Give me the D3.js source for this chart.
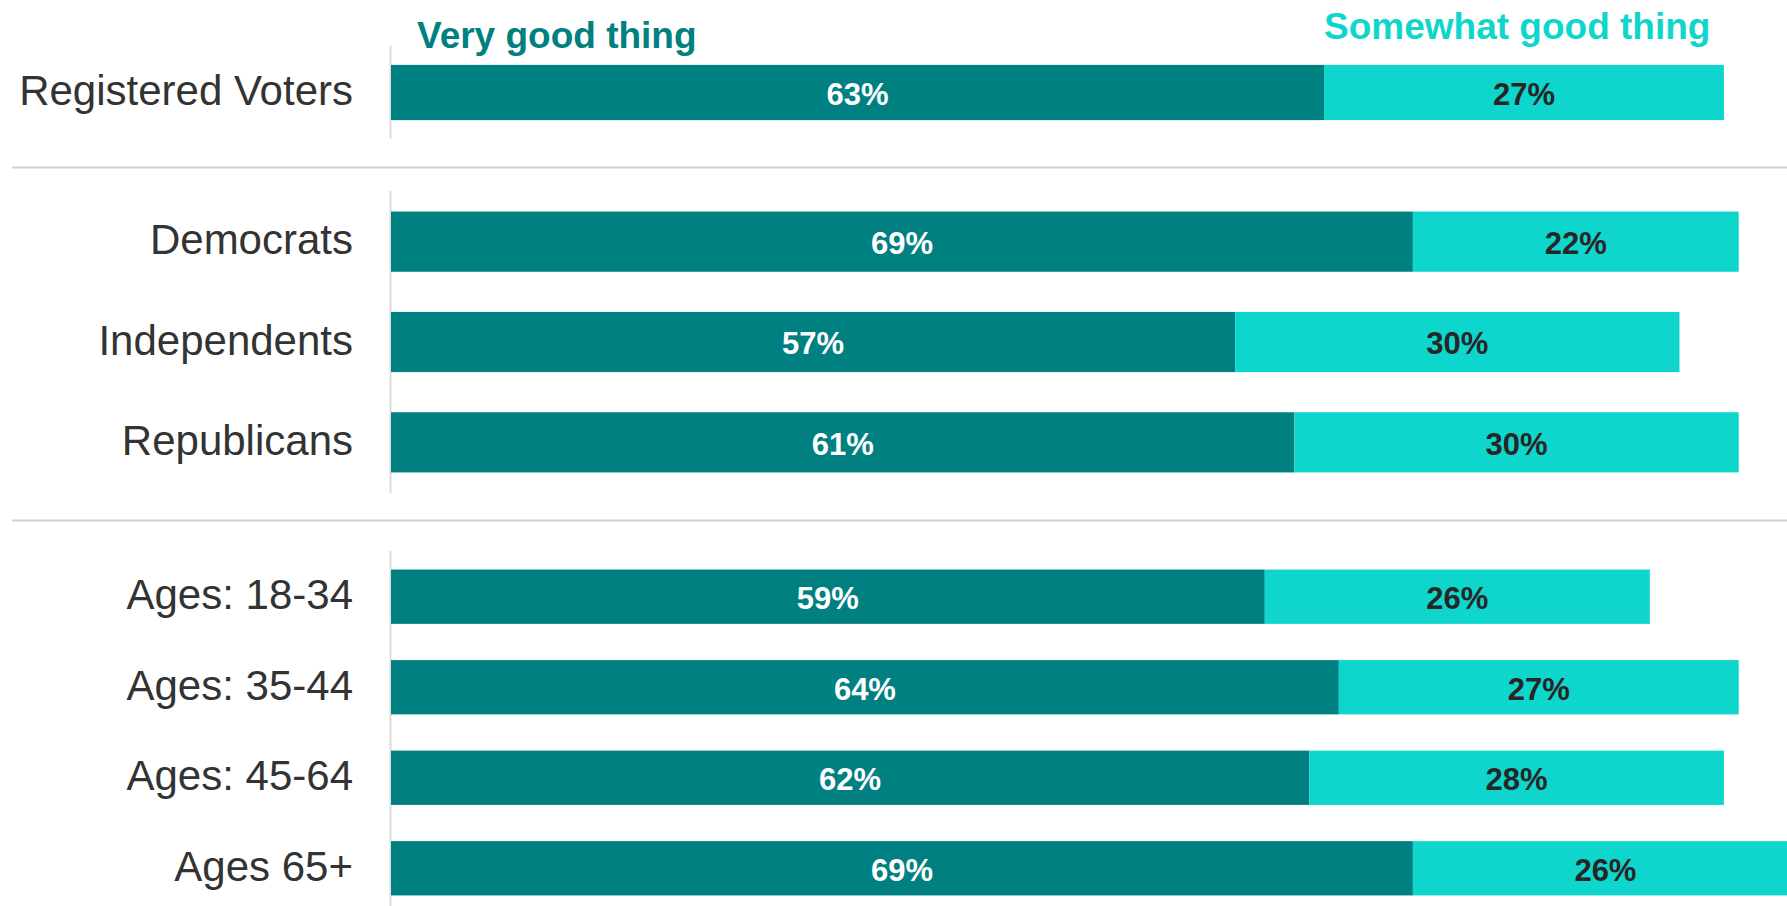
<!DOCTYPE html>
<html>
<head>
<meta charset="utf-8">
<script src="https://cdn.jsdelivr.net/npm/d3@7"></script>
<style>
  html, body { margin: 0; padding: 0; background: #fff; }
  svg { display: block; font-family: "Liberation Sans", Arial, sans-serif; }
</style>
</head>
<body>
<svg width="1787" height="906"></svg>
<script>
// data
let categories = ["Registered Voters", "Democrats", "Independents", "Republicans",
                  "Ages: 18-34", "Ages: 35-44", "Ages: 45-64", "Ages 65+"];
let veryGood = [63, 69, 57, 61, 59, 64, 62, 69];
let somewhatGood = [27, 22, 30, 30, 26, 27, 28, 26];
let groupOf = [0, 1, 1, 1, 2, 2, 2, 2];
let seriesNames = ["Very good thing", "Somewhat good thing"];

let darkTeal = '#008080';
let lightTeal = '#0fd6cd';

let svg = d3.select('svg');

let x = d3.scaleLinear().domain([0, 100]).range([391, 1872]);

// each group of rows gets its own band scale
let groupRanges = [[46, 139], [191, 493], [551, 914]];
let yScales = groupRanges.map((r, g) => {
  let cats = categories.filter((c, i) => groupOf[i] === g);
  return d3.scaleBand().domain(cats).range(r).paddingInner(0.4).paddingOuter(0.205);
});

let rows = categories.map((c, i) => ({
  name: c,
  very: veryGood[i],
  some: somewhatGood[i],
  y: yScales[groupOf[i]](c),
  h: yScales[groupOf[i]].bandwidth()
}));

// separators between groups
svg.selectAll('line.sep')
  .data([167.5, 520.5])
  .enter()
  .append('line')
  .attr('class', 'sep')
  .attr('x1', 12).attr('x2', 1787)
  .attr('y1', d => d).attr('y2', d => d)
  .attr('stroke', '#d0d0d0')
  .attr('stroke-width', 2);

// axis segments
svg.selectAll('line.axis')
  .data(groupRanges)
  .enter()
  .append('line')
  .attr('class', 'axis')
  .attr('x1', x(0) - 0.5).attr('x2', x(0) - 0.5)
  .attr('y1', d => d[0]).attr('y2', d => Math.min(d[1], 906))
  .attr('stroke', '#dcdcdc')
  .attr('stroke-width', 2);

// bars
let row = svg.selectAll('g.row')
  .data(rows)
  .enter()
  .append('g')
  .attr('class', 'row');

row.append('rect')
  .attr('x', x(0))
  .attr('y', d => d.y)
  .attr('width', d => x(d.very) - x(0))
  .attr('height', d => d.h)
  .attr('fill', darkTeal);

row.append('rect')
  .attr('x', d => x(d.very))
  .attr('y', d => d.y)
  .attr('width', d => x(d.very + d.some) - x(d.very))
  .attr('height', d => d.h)
  .attr('fill', lightTeal);

row.append('text')
  .attr('x', d => (x(0) + x(d.very)) / 2)
  .attr('y', d => d.y + d.h / 2)
  .attr('dy', '0.4em')
  .attr('text-anchor', 'middle')
  .attr('font-size', 31)
  .attr('font-weight', 'bold')
  .attr('fill', '#fff')
  .text(d => d.very + '%');

row.append('text')
  .attr('x', d => (x(d.very) + x(d.very + d.some)) / 2)
  .attr('y', d => d.y + d.h / 2)
  .attr('dy', '0.4em')
  .attr('text-anchor', 'middle')
  .attr('font-size', 31)
  .attr('font-weight', 'bold')
  .attr('fill', '#262626')
  .text(d => d.some + '%');

// category labels
row.append('text')
  .attr('x', 353)
  .attr('y', d => d.y + d.h / 2)
  .attr('dy', '0.3em')
  .attr('text-anchor', 'end')
  .attr('font-size', 42)
  .attr('fill', '#333')
  .text(d => d.name);

// series labels above the first bar
svg.append('text')
  .attr('x', x(0) + 26)
  .attr('y', 48)
  .attr('font-size', 37)
  .attr('font-weight', 'bold')
  .attr('fill', darkTeal)
  .text(seriesNames[0]);

svg.append('text')
  .attr('x', x(veryGood[0]))
  .attr('y', 39)
  .attr('font-size', 37)
  .attr('font-weight', 'bold')
  .attr('fill', lightTeal)
  .text(seriesNames[1]);
</script>
</body>
</html>
